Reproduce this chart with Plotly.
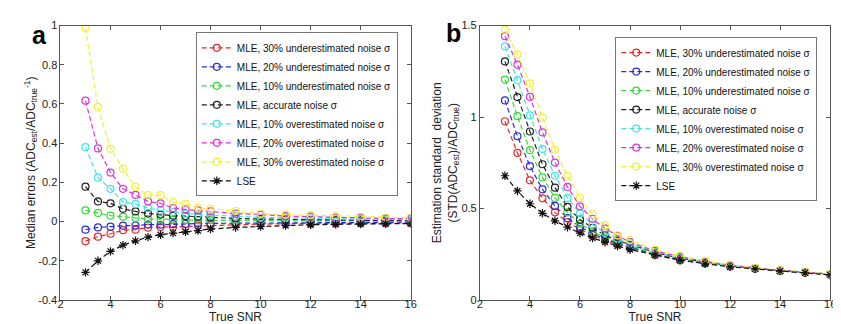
import plotly.graph_objects as go

snr = [3, 3.5, 4, 4.5, 5, 5.5, 6, 6.5, 7, 7.5, 8, 9, 10, 11, 12, 13, 14, 15, 16]

series_names = [
    "MLE, 30% underestimated noise σ",
    "MLE, 20% underestimated noise σ",
    "MLE, 10% underestimated noise σ",
    "MLE, accurate noise σ",
    "MLE, 10% overestimated noise σ",
    "MLE, 20% overestimated noise σ",
    "MLE, 30% overestimated noise σ",
    "LSE",
]

# Panel a: median errors
median_under30 = [-0.100, -0.077, -0.062, -0.044, -0.041, -0.031, -0.028, -0.026, -0.025, -0.021, -0.018, -0.016, -0.013, -0.011, -0.011, -0.010, -0.009, -0.008, -0.008]
median_under20 = [-0.041, -0.030, -0.026, -0.021, -0.020, -0.015, -0.016, -0.013, -0.012, -0.010, -0.009, -0.008, -0.007, -0.005, -0.005, -0.004, -0.004, -0.003, -0.003]
median_under10 = [0.057, 0.044, 0.030, 0.025, 0.020, 0.013, 0.013, 0.010, 0.008, 0.007, 0.007, 0.005, 0.005, 0.004, 0.004, 0.003, 0.003, 0.003, 0.003]
median_accurate = [0.178, 0.103, 0.093, 0.065, 0.052, 0.041, 0.036, 0.030, 0.028, 0.025, 0.021, 0.016, 0.013, 0.011, 0.008, 0.007, 0.007, 0.005, 0.005]
median_over10 = [0.380, 0.224, 0.167, 0.100, 0.090, 0.069, 0.057, 0.049, 0.041, 0.038, 0.033, 0.028, 0.021, 0.020, 0.016, 0.015, 0.013, 0.011, 0.010]
median_over20 = [0.617, 0.373, 0.250, 0.167, 0.136, 0.103, 0.093, 0.069, 0.062, 0.057, 0.052, 0.041, 0.036, 0.028, 0.025, 0.021, 0.020, 0.016, 0.015]
median_over30 = [0.987, 0.585, 0.372, 0.270, 0.177, 0.136, 0.135, 0.100, 0.090, 0.070, 0.065, 0.054, 0.040, 0.036, 0.033, 0.028, 0.025, 0.021, 0.020]
median_lse = [-0.259, -0.200, -0.152, -0.120, -0.098, -0.079, -0.067, -0.059, -0.052, -0.046, -0.038, -0.030, -0.025, -0.020, -0.016, -0.014, -0.013, -0.011, -0.010]

# Panel b: estimation standard deviation
std_under30 = [0.977, 0.804, 0.654, 0.556, 0.479, 0.426, 0.386, 0.354, 0.325, 0.304, 0.284, 0.246, 0.216, 0.200, 0.183, 0.171, 0.159, 0.150, 0.139]
std_under20 = [1.091, 0.895, 0.732, 0.605, 0.514, 0.447, 0.400, 0.363, 0.333, 0.311, 0.289, 0.249, 0.219, 0.202, 0.185, 0.172, 0.160, 0.150, 0.140]
std_under10 = [1.205, 1.005, 0.819, 0.670, 0.558, 0.479, 0.418, 0.374, 0.342, 0.316, 0.295, 0.254, 0.225, 0.204, 0.186, 0.173, 0.160, 0.151, 0.140]
std_accurate = [1.304, 1.109, 0.921, 0.742, 0.614, 0.509, 0.439, 0.395, 0.354, 0.325, 0.302, 0.260, 0.228, 0.206, 0.188, 0.173, 0.161, 0.151, 0.141]
std_over10 = [1.386, 1.202, 1.009, 0.825, 0.679, 0.558, 0.474, 0.412, 0.368, 0.333, 0.307, 0.263, 0.233, 0.208, 0.189, 0.174, 0.161, 0.152, 0.141]
std_over20 = [1.442, 1.286, 1.110, 0.916, 0.751, 0.618, 0.512, 0.444, 0.391, 0.351, 0.316, 0.268, 0.237, 0.211, 0.191, 0.175, 0.162, 0.152, 0.142]
std_over30 = [1.477, 1.342, 1.184, 0.996, 0.821, 0.679, 0.558, 0.468, 0.409, 0.354, 0.328, 0.275, 0.242, 0.214, 0.193, 0.176, 0.162, 0.153, 0.143]
std_lse = [0.679, 0.596, 0.526, 0.474, 0.433, 0.398, 0.365, 0.339, 0.316, 0.295, 0.275, 0.246, 0.219, 0.198, 0.181, 0.170, 0.158, 0.149, 0.137]

x_ticks = [2, 4, 6, 8, 10, 12, 14, 16]
ya_ticks = [-0.4, -0.2, 0, 0.2, 0.4, 0.6, 0.8, 1]
ya_ticktext = ["-0.4", "-0.2", "0", "0.2", "0.4", "0.6", "0.8", "1"]
yb_ticks = [0, 0.5, 1, 1.5]
yb_ticktext = ["0", "0.5", "1", "1.5"]

colors = ["#e42a2a", "#2a2ae0", "#33dd33", "#222222", "#3ee6e6", "#dd33dd", "#f2f230", "#111111"]
symbols = ["circle-open"] * 7 + ["asterisk-open"]

median_series = [median_under30, median_under20, median_under10, median_accurate,
                 median_over10, median_over20, median_over30, median_lse]
std_series = [std_under30, std_under20, std_under10, std_accurate,
              std_over10, std_over20, std_over30, std_lse]

fig = go.Figure()

for i, name in enumerate(series_names):
    fig.add_trace(go.Scatter(
        x=snr, y=median_series[i], name=name, mode="lines+markers",
        xaxis="x", yaxis="y", legend="legend",
        line=dict(color=colors[i], width=1.2, dash="5px,3px"),
        marker=dict(symbol=symbols[i], size=7, color=colors[i], line=dict(width=1.2, color=colors[i])),
    ))
for i, name in enumerate(series_names):
    fig.add_trace(go.Scatter(
        x=snr, y=std_series[i], name=name, mode="lines+markers",
        xaxis="x2", yaxis="y2", legend="legend2",
        line=dict(color=colors[i], width=1.2, dash="5px,3px"),
        marker=dict(symbol=symbols[i], size=7, color=colors[i], line=dict(width=1.2, color=colors[i])),
    ))

W, H = 841, 324
FONT = "Liberation Sans, Arial, sans-serif"
ax_font = dict(family=FONT, size=11, color="#222")
common_x = dict(range=[2, 16], tickvals=x_ticks, ticks="inside", ticklen=4, mirror="ticks",
                showline=True, linecolor="#555", linewidth=1, tickcolor="#555",
                showgrid=False, zeroline=False, tickfont=ax_font, ticklabelstandoff=-6,
                title=dict(text="True SNR", font=dict(family=FONT, size=12, color="#222"), standoff=0))
common_y = dict(ticks="inside", ticklen=4, mirror="ticks", showline=True, linecolor="#555",
                linewidth=1, tickcolor="#555", showgrid=False, zeroline=False, tickfont=ax_font)

legend_style = dict(font=dict(family=FONT, size=10, color="#111"),
                    bgcolor="white", bordercolor="#777", borderwidth=1,
                    xanchor="right", yanchor="top", tracegroupgap=0, itemwidth=30)

fig.update_layout(
    width=W, height=H,
    margin=dict(l=0, r=0, t=0, b=0),
    paper_bgcolor="white", plot_bgcolor="white",
    xaxis=dict(domain=[50 / W, 404 / W], anchor="y", **common_x),
    yaxis=dict(domain=[1 - 297 / H, 1 - 12 / H], anchor="x", range=[-0.4, 1],
               tickvals=ya_ticks, ticktext=ya_ticktext,
               title=dict(text="Median errors (ADC<sub>est</sub>/ADC<sub>true</sub><sup>-1</sup>)",
                          font=dict(family=FONT, size=12, color="#222"), standoff=0),
               **common_y),
    xaxis2=dict(domain=[474 / W, 828 / W], anchor="y2", **common_x),
    yaxis2=dict(domain=[1 - 297 / H, 1 - 12 / H], anchor="x2", range=[0, 1.5],
                tickvals=yb_ticks, ticktext=yb_ticktext,
                title=dict(text="Estimation standard  deviation<br>(STD(ADC<sub>est</sub>)/ADC<sub>true</sub>)",
                           font=dict(family=FONT, size=12, color="#222"), standoff=0),
                **common_y),
    legend=dict(x=391 / W, y=1 - 19 / H, **legend_style),
    legend2=dict(x=815 / W, y=1 - 24 / H, **legend_style),
    annotations=[
        dict(text="<b>a</b>", x=29 / W, y=1 - 22 / H, xref="paper", yref="paper", showarrow=False,
             xanchor="center", yanchor="middle",
             font=dict(family=FONT, size=25, color="black")),
        dict(text="<b>b</b>", x=447 / W, y=1 - 20 / H, xref="paper", yref="paper", showarrow=False,
             xanchor="center", yanchor="middle",
             font=dict(family=FONT, size=25, color="black")),
    ],
    showlegend=True,
)

fig.write_html("out.html")
